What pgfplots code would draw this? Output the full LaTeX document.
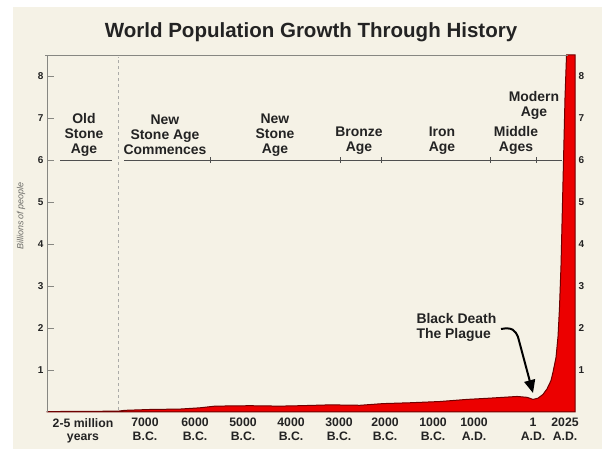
\documentclass[border=0pt]{standalone}
\usepackage{pgfplots}
\pgfplotsset{compat=1.18}
\usetikzlibrary{arrows.meta}
\usepackage{fontspec}
\setmainfont{Liberation Sans}
\definecolor{cream}{RGB}{245,242,230}
\definecolor{popred}{RGB}{236,0,0}
\definecolor{darkred}{RGB}{110,0,0}
\definecolor{axgray}{RGB}{135,135,130}
\definecolor{txt}{RGB}{35,35,35}
\pgfplotstableread{
x y
47 0.01
118 0.02
125 0.04
150 0.06
180 0.07
200 0.10
215 0.14
250 0.15
280 0.14
300 0.15
330 0.17
360 0.16
383 0.20
410 0.22
440 0.25
467 0.30
490 0.33
517 0.37
527 0.35
533 0.30
538 0.33
543 0.42
547 0.55
551 0.75
553 0.95
556 1.30
558 1.80
559.5 2.50
561 3.50
562 4.50
563 5.50
564 6.50
565 7.50
566.5 8.50
575 8.50
}\popdata
\begin{document}
\begin{tikzpicture}[x=1bp,y=1bp]
\useasboundingbox (0,0) rectangle (602,449);
\fill[white] (0,0) rectangle (602,449);
\fill[cream] (13,0) rectangle (602,442);
\node[font=\fontsize{20.6}{23}\selectfont\bfseries, text=txt] at (311,417) {World Population Growth Through History};
\begin{axis}[
  at={(47bp,37bp)}, anchor=south west,
  width=528bp, height=357bp, scale only axis,
  xmin=47, xmax=575, ymin=0, ymax=8.5,
  axis line style={draw=none},
  xtick={83,145,195,243,291,339,385,433,474,533,565},
  xticklabels={2-5 million\\years, 7000\\B.C., 6000\\B.C., 5000\\B.C., 4000\\B.C., 3000\\B.C., 2000\\B.C., 1000\\B.C., 1000\\A.D., 1\\A.D., 2025\\A.D.},
  xticklabel style={align=center, font=\fontsize{12.3}{13.5}\selectfont\bfseries, text=txt, inner sep=1bp, yshift=-5bp},
  xtick style={draw=none},
  ytick={1,...,8},
  ytick style={axgray, line width=0.8pt},
  major tick length=7bp,
  tick align=inside,
  ytick pos=left,
  yticklabel style={font=\fontsize{10}{12}\selectfont\bfseries, text=txt},
  /pgf/number format/assume math mode=true,
  clip=false,
]
\addplot[fill=popred, draw=darkred, line width=1pt] table[x=x,y=y] {\popdata} \closedcycle;
\draw[axgray, line width=0.9pt] (axis cs:47,0) -- (axis cs:47,8.5);
\draw[axgray, line width=0.9pt] (axis cs:45,8.5) -- (axis cs:568,8.5);
\draw[axgray!70, dashed, line width=0.7pt] (axis cs:118,0.05) -- (axis cs:118,8.45);
\end{axis}
\begin{axis}[
  at={(47bp,37bp)}, anchor=south west,
  width=528bp, height=357bp, scale only axis,
  xmin=47, xmax=575, ymin=0, ymax=8.5,
  axis x line=none, axis y line*=right,
  y axis line style={draw=none},
  ytick={1,...,8},
  ytick style={draw=none},
  yticklabel style={font=\fontsize{10}{12}\selectfont\bfseries, text=txt},
  /pgf/number format/assume math mode=true,
]
\end{axis}
% y label
\node[rotate=90, font=\fontsize{9}{11}\selectfont\itshape, text=axgray!80!black] at (21,233) {Billions of people};
% era line
\draw[txt!80, line width=0.8pt] (60,289) -- (112,289);
\draw[txt!80, line width=0.8pt] (124,289) -- (562,289);
\foreach \t in {210,340,381,490,536} \draw[txt!80, line width=0.7pt] (\t,286) -- (\t,292);
% era labels
\begin{scope}[every node/.style={align=center, font=\fontsize{14}{15}\selectfont\bfseries, text=txt}]
\node at (84,314) {Old\\Stone\\Age};
\node at (165,314) {New\\Stone Age\\Commences};
\node at (275,314) {New\\Stone\\Age};
\node at (359,308.5) {Bronze\\Age};
\node at (442,308.5) {Iron\\Age};
\node at (516,308.5) {Middle\\Ages};
\node at (534,343.5) {Modern\\Age};
\end{scope}
\node[anchor=west, align=left, font=\fontsize{14}{15}\selectfont\bfseries, text=txt] at (413,121.5) {Black Death\\The Plague};
\draw[black, line width=2pt, -{Triangle[length=13bp,width=11bp]}] (501,120) .. controls (512,122) and (515,119) .. (518,112) -- (533,56);
\end{tikzpicture}
\end{document}
